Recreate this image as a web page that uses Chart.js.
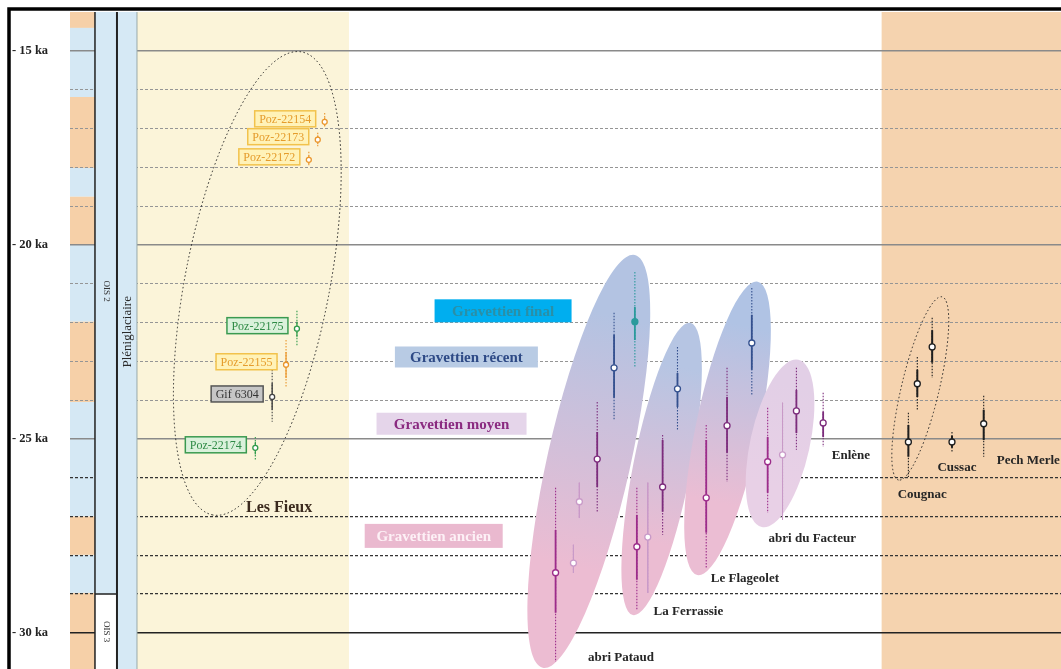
<!DOCTYPE html>
<html lang="fr">
<head>
<meta charset="utf-8">
<title>Gravettien – datations</title>
<script src="https://cdn.jsdelivr.net/npm/chart.js@4.4.1/dist/chart.umd.min.js"></script>
<style>
  html, body { margin: 0; padding: 0; background: #fff; overflow: hidden; }
  #wrap { width: 1061px; height: 669px; }
</style>
</head>
<body>
<div id="wrap"><canvas id="chart" width="1061" height="669"></canvas></div>
<script>
// --- Données (âges en ka cal BP) ---
const echantillons = ['Poz-22154', 'Poz-22173', 'Poz-22172', 'Poz-22175', 'Poz-22155', 'Gif 6304', 'Poz-22174',
  'Pataud a', 'Pataud b', 'Pataud c', 'Pataud d', 'Pataud e', 'Pataud f',
  'Ferrassie a', 'Ferrassie b', 'Ferrassie c', 'Ferrassie d',
  'Flageolet a', 'Flageolet b', 'Flageolet c',
  'Facteur a', 'Facteur b', 'Facteur c', 'Enlène',
  'Cougnac a', 'Cougnac b', 'Cougnac c', 'Cussac', 'Pech Merle'];
const positionX = [25.7, 25.0, 24.1, 22.9, 21.8, 20.4, 18.7,
  49.0, 50.8, 51.4, 53.2, 54.9, 57.0,
  57.2, 58.3, 59.8, 61.3,
  64.2, 66.3, 68.8,
  70.4, 71.9, 73.3, 76.0,
  84.6, 85.5, 87.0, 89.0, 92.2];
const age = [16.83, 17.29, 17.81, 22.16, 23.09, 23.92, 25.23,
  28.45, 28.20, 26.62, 25.52, 23.17, 21.98,
  27.78, 27.53, 26.24, 23.71,
  26.52, 24.66, 22.53,
  25.59, 25.41, 24.28, 24.59,
  25.08, 23.58, 22.63, 25.08, 24.61];
const sigma1Bas = [16.72, 17.18, 17.70, 21.98, 22.76, 23.56, 25.08,
  27.35, 27.73, 26.13, 24.82, 22.32, 21.60,
  26.96, 26.13, 25.03, 23.30,
  25.03, 23.92, 21.80,
  24.95, 24.07, 23.74, 24.30,
  24.64, 23.22, 22.20, 24.92, 24.25];
const sigma1Haut = [16.93, 17.40, 17.92, 22.37, 23.43, 24.25, 25.40,
  29.48, 28.45, 27.04, 26.24, 23.94, 22.45,
  28.63, 28.97, 26.88, 24.18,
  27.42, 25.36, 23.22,
  26.39, 27.09, 24.85, 24.95,
  25.46, 23.92, 23.04, 25.23, 25.03];
const sigma2Bas = [16.60, 17.11, 17.60, 21.70, 22.45, 23.22, 24.95,
  26.26, 27.73, 26.13, 24.05, 21.75, 20.70,
  26.26, 26.13, 24.90, 22.63,
  24.64, 23.17, 21.11,
  24.20, 24.07, 23.17, 23.81,
  24.33, 22.89, 21.88, 24.82, 23.89];
const sigma2Haut = [16.98, 17.50, 17.99, 22.60, 23.69, 24.56, 25.54,
  30.75, 28.45, 27.04, 26.88, 24.51, 23.17,
  29.41, 28.97, 27.47, 24.77,
  28.32, 26.11, 23.87,
  26.91, 27.09, 25.28, 25.21,
  25.98, 24.25, 23.43, 25.34, 25.46];
const groupe = ['fo', 'fo', 'fo', 'fv', 'fo', 'fg', 'fv',
  'an', 'mi', 'mi', 'mo', 're', 'fi',
  'an', 'mi', 'mo', 're',
  'an', 'mo', 're',
  'an', 'mi', 'mo', 'mo',
  'au', 'au', 'au', 'au', 'au'];

const graduations = [15, 16, 17, 18, 19, 20, 21, 22, 23, 24, 25, 26, 27, 28, 29, 30];
const etiquettesAxe = [15, 20, 25, 30];

// bandes de la colonne isotopique (limites en ka)
const bandesLimites = [14, 14.41, 16.19, 18.02, 18.76, 20.0, 21.98, 24.05, 27.0, 27.99, 28.97, 30.93];
const bandesType = ['o', 'b', 'o', 'b', 'o', 'b', 'o', 'b', 'o', 'b', 'o'];
const limiteOis = 29.0;
const oisNoms = ['OIS 2', 'OIS 3'];

const phases = ['Gravettien final', 'Gravettien récent', 'Gravettien moyen', 'Gravettien ancien'];
const sites = ['Les Fieux', 'abri Pataud', 'La Ferrassie', 'Le Flageolet', 'abri du Facteur', 'Enlène', 'Cougnac', 'Cussac', 'Pech Merle'];

// --- Mise en page / styles ---
const Y_MIN = 14, Y_MAX = 30.93;
const SERIF = '"Liberation Serif", "DejaVu Serif", serif';

const stylesGroupe = {
  fo: { couleur: '#ea962c', fond: '#fff2b8', bord: '#f2c24c', texte: '#e59c2c', lw: 1.2, r: 2.5 },
  fv: { couleur: '#2f9a4a', fond: '#daf1db', bord: '#3a9a50', texte: '#2e8a45', lw: 1.2, r: 2.5 },
  fg: { couleur: '#444444', fond: '#c6c6c6', bord: '#555555', texte: '#333333', lw: 1.4, r: 2.5 },
  an: { couleur: '#9c2c8a', lw: 1.8, r: 3 },
  mo: { couleur: '#7c2c7c', lw: 1.8, r: 3 },
  mi: { couleur: '#c99ac8', lw: 1, r: 3 },
  re: { couleur: '#34508e', lw: 1.8, r: 3 },
  fi: { couleur: '#2a9a9c', lw: 1.8, r: 3, plein: true },
  au: { couleur: '#1e1e1e', lw: 2, r: 3 }
};

const zonesFond = [
  { de: 6.76, a: 28.15, couleur: '#fbf4d9' },
  { de: 81.9, a: 101, couleur: '#f5d3af' }
];
const couleursBandes = { o: '#f6d0a8', b: '#d5e8f4' };
const colBandes = { de: 0, a: 2.52 };
const colOis = { de: 2.52, a: 4.74 };
const colPleni = { de: 4.74, a: 6.76 };

// ellipses : extrémité haute / basse [x, ka], demi-largeur en unités x
const nuages = [
  { haut: [57.0, 20.26], bas: [47.7, 30.90], dl: 4.2, c: ['#b3c3e2', '#ecbcd2'] },
  { haut: [62.6, 22.01], bas: [56.8, 29.54], dl: 2.9, c: ['#b6c5e3', '#ebbcd2'] },
  { haut: [69.4, 20.95], bas: [63.3, 28.51], dl: 3.2, c: ['#b0c3e4', '#ebbdd3'] },
  { haut: [73.5, 22.96], bas: [69.8, 27.27], dl: 3.0, c: ['#e2cfe6', '#e8d0e6'] }
];
const ellipsesPointillees = [
  { haut: [23.4, 15.03], bas: [14.4, 26.96], dl: 7.3 },
  { haut: [88.0, 21.34], bas: [83.6, 26.06], dl: 1.9 }
];
const boitesPhases = [
  { x: 43.7, y: 21.70, l: 137, h: 23, fond: '#00aeef', texte: '#2a8fa6' },
  { x: 40.0, y: 22.89, l: 143, h: 21, fond: '#b8cbe4', texte: '#2e4a86' },
  { x: 38.5, y: 24.61, l: 150, h: 22, fond: '#e5d5ea', texte: '#8a2a80' },
  { x: 36.7, y: 27.50, l: 138, h: 24, fond: '#eab9cf', texte: '#fdf1f6' }
];
const posSites = [
  { x: 21.1, y: 26.78, taille: 16, couleur: '#3b2a1e' },
  { x: 55.6, y: 30.64 }, { x: 62.4, y: 29.46 }, { x: 68.1, y: 28.61 },
  { x: 74.9, y: 27.58 }, { x: 78.8, y: 25.44 }, { x: 86.0, y: 26.44 },
  { x: 89.5, y: 25.75 }, { x: 96.7, y: 25.57 }
];

// --- Jeux de données Chart.js ---
const datasets = [];
Object.keys(stylesGroupe).forEach(g => {
  const st = stylesGroupe[g];
  const idx = groupe.map((v, i) => v === g ? i : -1).filter(i => i >= 0);
  const segments = (bas, haut) => idx.flatMap(i => [
    { x: positionX[i], y: bas[i] }, { x: positionX[i], y: haut[i] }, { x: positionX[i], y: null }
  ]);
  datasets.push({
    data: segments(sigma2Bas, sigma2Haut), showLine: true, spanGaps: false,
    borderColor: st.couleur, borderWidth: 1.1, borderDash: [1.5, 1.5],
    pointRadius: 0, order: 3
  });
  datasets.push({
    data: segments(sigma1Bas, sigma1Haut), showLine: true, spanGaps: false,
    borderColor: st.couleur, borderWidth: st.lw, pointRadius: 0, order: 2
  });
  datasets.push({
    data: idx.map(i => ({ x: positionX[i], y: age[i] })),
    pointRadius: st.r, pointBorderWidth: 1.3,
    pointBackgroundColor: st.plein ? st.couleur : '#ffffff',
    pointBorderColor: st.couleur, order: 1
  });
});

function ellipse(ctx, sx, sy, e) {
  const x1 = sx.getPixelForValue(e.haut[0]), y1 = sy.getPixelForValue(e.haut[1]);
  const x2 = sx.getPixelForValue(e.bas[0]), y2 = sy.getPixelForValue(e.bas[1]);
  const b = sx.getPixelForValue(e.dl) - sx.getPixelForValue(0);
  const a = Math.hypot(x2 - x1, y2 - y1) / 2;
  ctx.beginPath();
  ctx.ellipse((x1 + x2) / 2, (y1 + y2) / 2, a, b, Math.atan2(y2 - y1, x2 - x1), 0, Math.PI * 2);
  return [x1, y1, x2, y2];
}

const decor = {
  id: 'decor',
  beforeDraw(chart) {
    const { ctx, chartArea: ca, scales: { x, y } } = chart;
    ctx.save();
    zonesFond.forEach(z => {
      const a = x.getPixelForValue(z.de), b = x.getPixelForValue(z.a);
      ctx.fillStyle = z.couleur;
      ctx.fillRect(a, ca.top, b - a, ca.bottom - ca.top);
    });
    const b0 = x.getPixelForValue(colBandes.de), b1 = x.getPixelForValue(colBandes.a);
    for (let i = 0; i < bandesType.length; i++) {
      const t = y.getPixelForValue(bandesLimites[i]), u = y.getPixelForValue(bandesLimites[i + 1]);
      ctx.fillStyle = couleursBandes[bandesType[i]];
      ctx.fillRect(b0, t, b1 - b0, u - t);
    }
    ctx.restore();
  },
  beforeDatasetsDraw(chart) {
    const { ctx, chartArea: ca, scales: { x, y } } = chart;
    ctx.save();
    // colonnes OIS et Pléniglaciaire
    const o0 = x.getPixelForValue(colOis.de), o1 = x.getPixelForValue(colOis.a);
    const p1 = x.getPixelForValue(colPleni.a);
    const yl = y.getPixelForValue(limiteOis);
    ctx.fillStyle = '#d6e9f5';
    ctx.fillRect(o0, ca.top, o1 - o0, yl - ca.top);
    ctx.fillRect(o1, ca.top, p1 - o1, ca.bottom - ca.top);
    ctx.fillStyle = '#ffffff';
    ctx.fillRect(o0, yl, o1 - o0, ca.bottom - yl);
    ctx.strokeStyle = '#222';
    ctx.lineWidth = 1.5;
    ctx.beginPath();
    ctx.moveTo(o0, ca.top); ctx.lineTo(o0, ca.bottom);
    ctx.moveTo(o0, yl); ctx.lineTo(o1, yl);
    ctx.stroke();
    ctx.lineWidth = 2;
    ctx.beginPath(); ctx.moveTo(o1, ca.top); ctx.lineTo(o1, ca.bottom); ctx.stroke();
    ctx.strokeStyle = '#9aa';
    ctx.lineWidth = 1;
    ctx.beginPath(); ctx.moveTo(p1, ca.top); ctx.lineTo(p1, ca.bottom); ctx.stroke();

    ctx.fillStyle = '#333';
    ctx.textAlign = 'center';
    ctx.textBaseline = 'middle';
    ctx.font = '9px ' + SERIF;
    [[oisNoms[0], 21.19], [oisNoms[1], 29.97]].forEach(([t, v]) => {
      ctx.save();
      ctx.translate((o0 + o1) / 2, y.getPixelForValue(v));
      ctx.rotate(Math.PI / 2);
      ctx.fillText(t, 0, 0);
      ctx.restore();
    });
    ctx.save();
    ctx.font = '13px ' + SERIF;
    ctx.fillStyle = '#2a2a2a';
    ctx.translate((o1 + p1) / 2 + 1, y.getPixelForValue(22.24));
    ctx.rotate(-Math.PI / 2);
    ctx.fillText('Pléniglaciaire', 0, 0);
    ctx.restore();

    // nuages colorés
    nuages.forEach(n => {
      const [x1, y1, x2, y2] = ellipse(ctx, x, y, n);
      const gr = ctx.createLinearGradient(x1, y1, x2, y2);
      gr.addColorStop(0.15, n.c[0]);
      gr.addColorStop(0.75, n.c[1]);
      ctx.fillStyle = gr;
      ctx.fill();
    });

    // ellipses pointillées
    ctx.strokeStyle = '#222';
    ctx.lineWidth = 1;
    ctx.setLineDash([1.5, 2.5]);
    ellipsesPointillees.forEach(e => { ellipse(ctx, x, y, e); ctx.stroke(); });
    ctx.setLineDash([]);

    // étiquettes des phases
    ctx.font = 'bold 15px ' + SERIF;
    boitesPhases.forEach((b, i) => {
      const cx = x.getPixelForValue(b.x), cy = y.getPixelForValue(b.y);
      ctx.fillStyle = b.fond;
      ctx.fillRect(cx - b.l / 2, cy - b.h / 2, b.l, b.h);
      ctx.fillStyle = b.texte;
      ctx.fillText(phases[i], cx, cy + 1);
    });
    ctx.restore();
  },
  afterDatasetsDraw(chart) {
    const { ctx, scales: { x, y } } = chart;
    ctx.save();
    ctx.textBaseline = 'middle';
    // étiquettes des échantillons des Fieux
    ctx.font = '12px ' + SERIF;
    echantillons.forEach((nom, i) => {
      const st = stylesGroupe[groupe[i]];
      if (!st.fond) return;
      const px = x.getPixelForValue(positionX[i]), py = y.getPixelForValue(age[i]);
      const w = ctx.measureText(nom).width + 9, h = 16;
      const r = px - 9, cy = py - 3;
      ctx.fillStyle = st.fond;
      ctx.fillRect(r - w, cy - h / 2, w, h);
      ctx.strokeStyle = st.bord;
      ctx.lineWidth = 1.5;
      ctx.strokeRect(r - w, cy - h / 2, w, h);
      ctx.fillStyle = st.texte;
      ctx.textAlign = 'center';
      ctx.fillText(nom, r - w / 2, cy + 1);
    });
    // noms des sites
    sites.forEach((s, i) => {
      const p = posSites[i];
      ctx.font = 'bold ' + (p.taille || 13) + 'px ' + SERIF;
      ctx.fillStyle = p.couleur || '#262626';
      ctx.textAlign = 'center';
      ctx.fillText(s, x.getPixelForValue(p.x), y.getPixelForValue(p.y));
    });
    ctx.restore();
  },
  afterDraw(chart) {
    const { ctx, width, height } = chart;
    ctx.save();
    ctx.strokeStyle = '#000';
    ctx.lineWidth = 3.5;
    ctx.beginPath();
    ctx.moveTo(9, height); ctx.lineTo(9, 9); ctx.lineTo(width, 9);
    ctx.stroke();
    ctx.restore();
  }
};

const ticksFixes = s => { s.ticks = graduations.map(v => ({ value: v })); };
// pas de marge automatique pour les étiquettes extrêmes
const largeurFixe = w => s => { s.width = w; s.paddingTop = 0; s.paddingBottom = 0; };

new Chart(document.getElementById('chart'), {
  type: 'scatter',
  data: { datasets },
  plugins: [decor],
  options: {
    responsive: false,
    animation: false,
    layout: { autoPadding: false, padding: { top: 12, left: 12, right: 0, bottom: 0 } },
    plugins: { legend: { display: false }, tooltip: { enabled: false } },
    scales: {
      x: { type: 'linear', min: 0, max: 100, display: false },
      y: {
        type: 'linear', reverse: true, min: Y_MIN, max: Y_MAX,
        afterFit: largeurFixe(58),
        afterBuildTicks: ticksFixes,
        border: { display: false },
        grid: {
          drawTicks: false, lineWidth: 1.5,
          color: c => !etiquettesAxe.includes(c.tick.value) ? 'transparent'
            : (c.tick.value === 30 ? '#222222' : '#8a8a8a')
        },
        ticks: {
          crossAlign: 'far', padding: 0, color: '#222',
          font: { family: SERIF, size: 12.5, weight: 'bold' },
          callback: v => etiquettesAxe.includes(v) ? '- ' + v + ' ka' : ''
        }
      },
      y2: {
        type: 'linear', position: 'right', reverse: true, min: Y_MIN, max: Y_MAX,
        afterFit: largeurFixe(0),
        afterBuildTicks: ticksFixes,
        border: { display: false, dash: [3, 2] },
        ticks: { display: false },
        grid: {
          drawTicks: false,
          lineWidth: c => c.tick.value > 25 ? 1.3 : 1,
          color: c => etiquettesAxe.includes(c.tick.value) ? 'transparent'
            : (c.tick.value > 25 ? '#333333' : '#959595')
        }
      }
    }
  }
});
</script>
</body>
</html>
